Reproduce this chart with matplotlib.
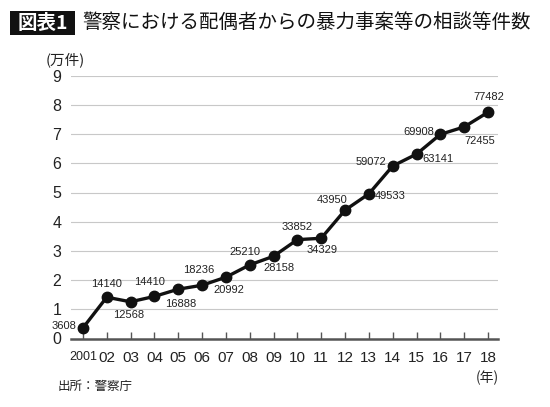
import matplotlib
matplotlib.use("Agg")
import matplotlib.pyplot as plt
from matplotlib.patches import Rectangle

plt.rcParams['font.family'] = ['Liberation Sans', 'Noto Sans CJK JP', 'DejaVu Sans']

years = list(range(2001, 2019))
year_labels = ["2001", "02", "03", "04", "05", "06", "07", "08", "09", "10",
               "11", "12", "13", "14", "15", "16", "17", "18"]
counts = [3608, 14140, 12568, 14410, 16888, 18236, 20992, 25210, 28158, 33852,
          34329, 43950, 49533, 59072, 63141, 69908, 72455, 77482]
y_ticks = list(range(0, 10))

title_tag = "図表1"
title = "警察における配偶者からの暴力事案等の相談等件数"
y_unit = "(万件)"
x_unit = "(年)"
source = "出所：警察庁"

# label placement (pixel offsets, alignment)
label_pos = [(-6, 2, 'right'), (0, 13, 'center'), (-2, -13, 'center'), (-5, 14, 'center'),
             (2, -15, 'center'), (-3, 15, 'center'), (3, -13, 'center'), (-5, 13, 'center'),
             (5, -12, 'center'), (0, 13, 'center'), (1, -12, 'center'), (-13, 10, 'center'),
             (6, -2, 'left'), (-6, 4, 'right'), (6, -5, 'left'), (-6, 2, 'right'),
             (16, -14, 'center'), (1, 15, 'center')]

W, H = 550, 407
fig = plt.figure(figsize=(W / 100, H / 100), dpi=100)
ax = fig.add_axes([71 / W, 68.5 / H, 427 / W, 262.8 / H])

vals = [c / 10000 for c in counts]
ax.plot(years, vals, color='#111111', lw=2.4, marker='o', ms=7.5, mfc='#111111',
        mec='#111111', zorder=3, clip_on=False)

for x, v, c, (dx, dy, ha) in zip(years, vals, counts, label_pos):
    ax.annotate(f"{c}", (x, v), xytext=(dx, dy), textcoords='offset pixels',
                ha=ha, va='center', fontsize=8, color='#222222',
                family=['Liberation Sans'])

ax.set_xlim(2000.5, 2018.42)
ax.set_ylim(0, 9)
ax.set_yticks(y_ticks)
ax.set_yticklabels([str(t) for t in y_ticks], fontsize=11.5)
ax.set_xticks(years)
xl = ax.set_xticklabels(year_labels, fontsize=11)
xl[0].set_fontsize(9)

for t in y_ticks[1:]:
    ax.axhline(t, color='#c8c8c8', lw=0.8, zorder=1)

for s in ['top', 'right', 'left']:
    ax.spines[s].set_visible(False)
ax.spines['bottom'].set_color('#555555')
ax.spines['bottom'].set_linewidth(1.8)
ax.tick_params(axis='x', direction='in', length=5, width=1, color='#555555',
               pad=9, labelcolor='#222222')
ax.tick_params(axis='y', length=0, pad=7, labelcolor='#222222')

# title block
fig.patches.append(Rectangle((10 / W, 1 - 35 / H), 65 / W, 24.5 / H,
                             transform=fig.transFigure, facecolor='#111111',
                             edgecolor='none'))
fig.text(42.5 / W, 1 - 23 / H, title_tag, color='white', fontsize=14, fontweight='bold',
         ha='center', va='center', family=['Noto Sans CJK JP', 'DejaVu Sans'])
fig.text(82 / W, 1 - 23 / H, title, color='#111111', fontsize=14,
         ha='left', va='center', family=['Noto Sans CJK JP', 'DejaVu Sans'])

fig.text(46 / W, 1 - 60 / H, y_unit, fontsize=10.5, ha='left', va='center',
         family=['Noto Sans CJK JP', 'DejaVu Sans'], color='#222222')
fig.text(487 / W, 1 - 378 / H, x_unit, fontsize=10, ha='center', va='center',
         family=['Noto Sans CJK JP', 'DejaVu Sans'], color='#222222')
fig.text(58 / W, 1 - 386 / H, source, fontsize=9, ha='left', va='center',
         family=['Noto Sans CJK JP', 'DejaVu Sans'], color='#222222')

fig.savefig("out.png", dpi=100)
